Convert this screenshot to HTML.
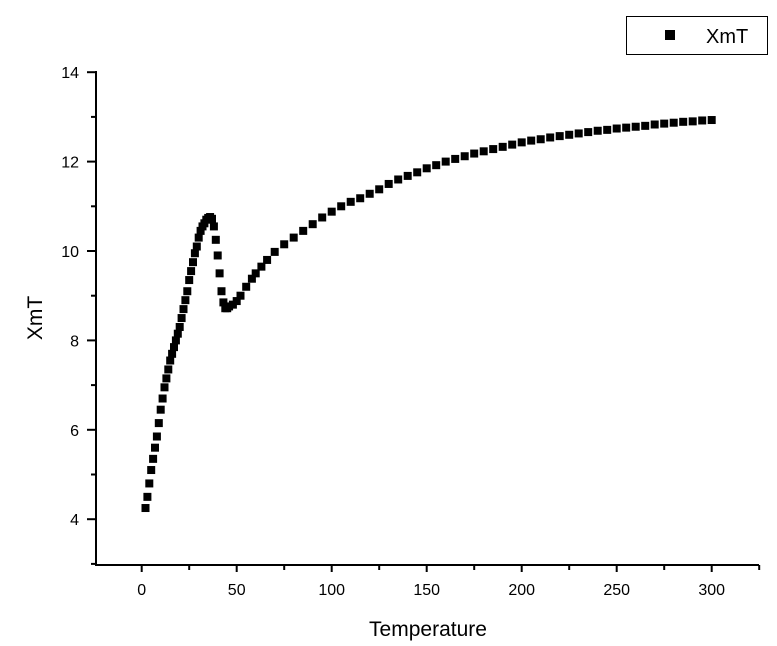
<!DOCTYPE html>
<html><head><meta charset="utf-8">
<style>
html,body{margin:0;padding:0;background:#fff;}
svg{display:block;font-family:"Liberation Sans",Arial,sans-serif;}
</style></head>
<body>
<svg id="chart" width="777" height="646" viewBox="0 0 777 646" xmlns="http://www.w3.org/2000/svg">
<g id="axes"></g>
<g id="marks"></g>
<text x="428" y="636" font-size="21" text-anchor="middle">Temperature</text>
<text x="0" y="0" font-size="21" text-anchor="middle" transform="translate(42,318) rotate(-90)">XmT</text>
<g>
<rect x="626.5" y="16.5" width="141" height="38" fill="#fff" stroke="#000" stroke-width="1"/>
<rect x="665" y="30" width="10" height="10" fill="#000"/>
<text x="706" y="43" font-size="20">XmT</text>
</g>
</svg>
<script>
const temps=[2,3,4,5,6,7,8,9,10,11,12,13,14,15,16,17,18,19,20,21,22,23,24,25,26,27,28,29,30,31,32,33,34,35,36,37,38,39,40,41,42,43,44,45,46,48,50,52,55,58,60,63,66,70,75,80,85,90,95,100,105,110,115,120,125,130,135,140,145,150,155,160,165,170,175,180,185,190,195,200,205,210,215,220,225,230,235,240,245,250,255,260,265,270,275,280,285,290,295,300];
const xmt=[4.25,4.5,4.8,5.1,5.35,5.6,5.85,6.15,6.45,6.7,6.95,7.15,7.35,7.55,7.7,7.85,8.0,8.15,8.3,8.5,8.7,8.9,9.1,9.35,9.55,9.75,9.95,10.1,10.3,10.45,10.55,10.62,10.7,10.74,10.76,10.72,10.55,10.25,9.9,9.5,9.1,8.85,8.72,8.72,8.76,8.8,8.88,9.0,9.2,9.38,9.5,9.65,9.8,9.98,10.15,10.3,10.45,10.6,10.75,10.88,11.0,11.1,11.18,11.28,11.38,11.5,11.6,11.68,11.76,11.85,11.92,12.0,12.06,12.12,12.18,12.23,12.28,12.33,12.38,12.43,12.47,12.5,12.54,12.57,12.6,12.63,12.66,12.69,12.71,12.74,12.76,12.78,12.8,12.83,12.85,12.87,12.89,12.9,12.92,12.93];
const xTicks=[0,50,100,150,200,250,300];
const xMinor=[-25,25,75,125,175,225,275,325];
const yTicks=[4,6,8,10,12,14];
const yMinor=[3,5,7,9,11,13];

const NS="http://www.w3.org/2000/svg";
function sx(t){return 141.7+t*1.9;}
function sy(v){return 251-(v-10)*44.7;}
const axes=document.getElementById('axes');
const marks=document.getElementById('marks');
function el(tag,attrs,parent){const e=document.createElementNS(NS,tag);for(const k in attrs)e.setAttribute(k,attrs[k]);parent.appendChild(e);return e;}

const X0=96,X1=759,Y0=565,Y1=72;
let a=el('line',{x1:X0,y1:Y0,x2:X1,y2:Y0,stroke:'#000','stroke-width':2},axes);


a=el('line',{x1:X0,y1:Y0+1,x2:X0,y2:Y1-1,stroke:'#000','stroke-width':2},axes);



xTicks.forEach(t=>{
  const x=sx(t);
  const l=el('line',{x1:x,y1:Y0,x2:x,y2:Y0+7,stroke:'#000','stroke-width':2},axes);
  
  
  const tx=el('text',{x:x,y:Y0+30,'font-size':16,'text-anchor':'middle'},axes);
  tx.textContent=t;
  
  
});
xMinor.forEach(t=>{
  const x=sx(t);
  if(x<X0-1||x>X1+1)return;
  const l=el('line',{x1:x,y1:Y0,x2:x,y2:Y0+5,stroke:'#000','stroke-width':2},axes);
  
  
});
yTicks.forEach(v=>{
  const y=sy(v);
  const l=el('line',{x1:X0-9,y1:y,x2:X0,y2:y,stroke:'#000','stroke-width':2},axes);
  
  
  const tx=el('text',{x:79,y:y+6,'font-size':16,'text-anchor':'end'},axes);
  tx.textContent=v;
  
  
});
yMinor.forEach(v=>{
  const y=sy(v);
  const l=el('line',{x1:X0-5,y1:y,x2:X0,y2:y,stroke:'#000','stroke-width':2},axes);
  
  
});
temps.forEach((t,i)=>{
  const r=el('rect',{x:sx(t)-4,y:sy(xmt[i])-4,width:8,height:8,fill:'#000'},marks);
  
  
});
</script>
</body></html>
